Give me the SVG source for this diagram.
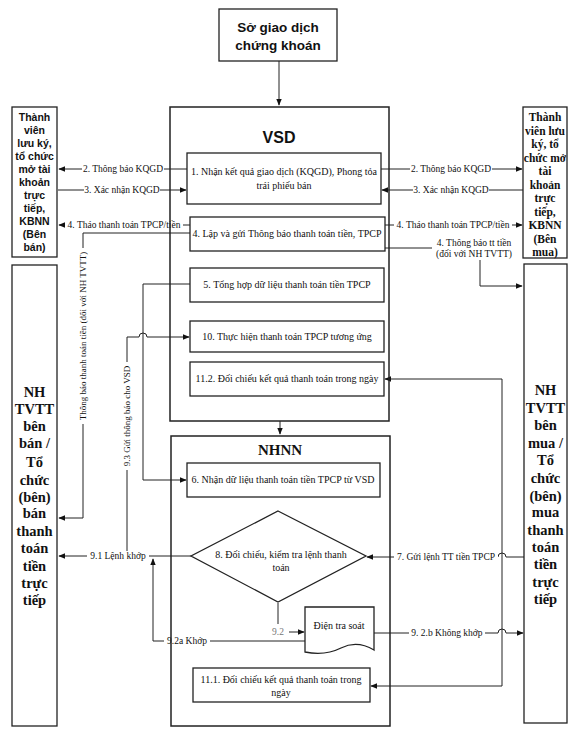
<svg xmlns="http://www.w3.org/2000/svg" width="576" height="739" viewBox="0 0 576 739">
<defs>
<marker id="ah" viewBox="0 0 10 10" refX="9" refY="5" markerWidth="7" markerHeight="7" orient="auto-start-reverse" markerUnits="userSpaceOnUse">
<path d="M0,1 L10,5 L0,9 Z" fill="#111"/>
</marker>
<style>
.box{fill:#fff;stroke:#222;stroke-width:1.3}
.cont{fill:none;stroke:#222;stroke-width:1.5}
.ln{fill:none;stroke:#222;stroke-width:1}
.bg{fill:#fff;stroke:none}
.t{font-family:"Liberation Serif","Times New Roman",serif;font-size:10px;fill:#111;text-anchor:middle}
.lb{font-family:"Liberation Serif","Times New Roman",serif;font-size:9.5px;fill:#111;text-anchor:middle}
.lv{font-family:"Liberation Serif","Times New Roman",serif;font-size:9px;fill:#111;text-anchor:middle}
.sb{font-family:"Liberation Sans",Arial,sans-serif;font-weight:bold;fill:#111;text-anchor:middle}
.rb{font-family:"Liberation Serif","Times New Roman",serif;font-weight:bold;fill:#111;text-anchor:middle}
</style>
</defs>

<g id="connectors">
<path class="ln" d="M279,61 V105" marker-end="url(#ah)"/>
<path class="ln" d="M280,421 V434" marker-end="url(#ah)"/>
<path class="ln" d="M187,169 H59" marker-end="url(#ah)"/>
<path class="ln" d="M58,190 H186" marker-end="url(#ah)"/>
<path class="ln" d="M190,225 H59" marker-end="url(#ah)"/>
<path class="ln" d="M190,233 H83 V518 H59" marker-end="url(#ah)"/>
<path class="ln" d="M381,169 H522" marker-end="url(#ah)"/>
<path class="ln" d="M523,190 H382" marker-end="url(#ah)"/>
<path class="ln" d="M385,225 H522" marker-end="url(#ah)"/>
<path class="ln" d="M385,248 H480 V286 H522" marker-end="url(#ah)"/>
<path class="ln" d="M190,284 H143 V480 H186" marker-end="url(#ah)"/>
<path class="ln" d="M127,556 V337 H139 A4,4 0 0 1 147,337 H189" marker-end="url(#ah)"/>
<path class="ln" d="M191,556 H59" marker-end="url(#ah)"/>
<path class="ln" d="M305,641 H153 V559" marker-end="url(#ah)"/>
<path class="ln" d="M278,603 V624"/>
<path class="ln" d="M289,632 H304" marker-end="url(#ah)"/>
<path class="ln" d="M374,633 H498 A4,4 0 0 1 506,633 H523" marker-end="url(#ah)"/>
<path class="ln" d="M524,557 H506 A4,4 0 0 0 498,557 H367" marker-end="url(#ah)"/>
<path class="ln" d="M385,379 H502 V686 H371" marker-start="url(#ah)" marker-end="url(#ah)"/>

<rect class="bg" x="82" y="164" width="82" height="11"/>
<text class="lb" x="123" y="172">2. Thông báo KQGD</text>
<rect class="bg" x="84" y="185" width="76" height="11"/>
<text class="lb" x="122" y="193">3. Xác nhận KQGD</text>
<rect class="bg" x="65" y="220" width="118" height="11"/>
<text class="lb" x="124" y="228">4. Tháo thanh toán TPCP/tiền</text>
<rect class="bg" x="410" y="164" width="82" height="11"/>
<text class="lb" x="451" y="172">2. Thông báo KQGD</text>
<rect class="bg" x="413" y="185" width="76" height="11"/>
<text class="lb" x="451" y="193">3. Xác nhận KQGD</text>
<rect class="bg" x="394" y="220" width="118" height="11"/>
<text class="lb" x="453" y="228">4. Tháo thanh toán TPCP/tiền</text>
<rect class="bg" x="432" y="238" width="84" height="11"/>
<text class="lb" x="474" y="246">4. Thông báo tt tiền</text>
<rect class="bg" x="434" y="249" width="80" height="11"/>
<text class="lb" x="474" y="257">(đối với NH TVTT)</text>
<g transform="translate(86,336) rotate(-90)">
<rect class="bg" x="-88" y="-8" width="176" height="11"/>
<text class="lv" x="0" y="0">Thông báo thanh toán tiền (đối với NH TVTT)</text>
</g>
<g transform="translate(130,416) rotate(-90)">
<rect class="bg" x="-54" y="-8" width="108" height="11"/>
<text class="lv" x="0" y="0">9.3 Gửi thông báo cho VSD</text>
</g>
<rect class="bg" x="87" y="551" width="62" height="11"/>
<text class="lb" x="118" y="559">9.1 Lệnh khớp</text>
<rect class="bg" x="164" y="636" width="46" height="11"/>
<text class="lb" x="187" y="644">9.2a Khớp</text>
<text class="lb" x="278" y="635" style="fill:#777">9.2</text>
<rect class="bg" x="409" y="628" width="76" height="11"/>
<text class="lb" x="447" y="636">9. 2.b Không khớp</text>
<rect class="bg" x="394" y="552" width="104" height="11"/>
<text class="lb" x="446" y="560">7. Gửi lệnh TT tiền TPCP</text>
</g>

<g id="sgd">
<rect class="box" x="219" y="9" width="118" height="52"/>
<text class="sb" x="278" y="32" font-size="13.5">Sở giao dịch</text>
<text class="sb" x="278" y="50" font-size="13.5">chứng khoán</text>
</g>

<g id="vsd">
<rect class="cont" x="170" y="107" width="219" height="314"/>
<text class="sb" x="279" y="143" font-size="16">VSD</text>
</g>
<g id="n1">
<rect class="box" x="187" y="153" width="194" height="51"/>
<text class="t" x="284" y="175">1. Nhận kết quả giao dịch (KQGD), Phong tỏa</text>
<text class="t" x="284" y="189">trái phiếu bán</text>
</g>
<g id="n4">
<rect class="box" x="190" y="217" width="195" height="34"/>
<text class="t" x="287" y="237">4.  Lập và gửi Thông báo thanh toán tiền, TPCP</text>
</g>
<g id="n5">
<rect class="box" x="190" y="268" width="194" height="34"/>
<text class="t" x="287" y="288">5. Tổng hợp dữ liệu thanh toán tiền TPCP</text>
</g>
<g id="n10">
<rect class="box" x="190" y="321" width="194" height="31"/>
<text class="t" x="287" y="340">10. Thực hiện thanh toán TPCP tương ứng</text>
</g>
<g id="n112">
<rect class="box" x="190" y="362" width="194" height="34"/>
<text class="t" x="287" y="382">11.2. Đối chiếu kết quả thanh toán trong ngày</text>
</g>

<g id="nhnn">
<rect class="cont" x="171" y="436" width="219" height="290"/>
<text class="rb" x="280" y="455" font-size="15">NHNN</text>
</g>
<g id="n6">
<rect class="box" x="187" y="463" width="193" height="34"/>
<text class="t" x="283" y="483">6. Nhận dữ liệu thanh toán tiền TPCP từ VSD</text>
</g>
<g id="n8">
<path class="box" d="M278,511 L366,556 L278,602 L191,556 Z"/>
<text class="t" x="281" y="558">8. Đối chiếu, kiểm tra lệnh thanh</text>
<text class="t" x="281" y="571">toán</text>
</g>
<g id="dts">
<path class="box" d="M305,607 H374 V650 Q357,640 341,648 T305,652 Z"/>
<text class="t" x="339" y="629">Điện tra soát</text>
</g>
<g id="n111">
<rect class="box" x="193" y="668" width="177" height="34"/>
<text class="t" x="281" y="683">11.1. Đối chiếu kết quả thanh toán trong</text>
<text class="t" x="281" y="696">ngày</text>
</g>

<g id="tv-ban">
<rect class="box" x="12" y="107" width="45" height="150"/>
<g class="sb" font-size="10.5">
<text x="34.5" y="121">Thành</text>
<text x="34.5" y="134">viên</text>
<text x="34.5" y="147">lưu ký,</text>
<text x="34.5" y="160">tổ chức</text>
<text x="34.5" y="173">mở tài</text>
<text x="34.5" y="186">khoản</text>
<text x="34.5" y="199">trực</text>
<text x="34.5" y="212">tiếp,</text>
<text x="34.5" y="225">KBNN</text>
<text x="34.5" y="238">(Bên</text>
<text x="34.5" y="251">bán)</text>
</g>
</g>

<g id="tv-mua">
<rect class="box" x="523" y="107" width="44" height="151"/>
<g class="rb" font-size="11.5">
<text x="545" y="121">Thành</text>
<text x="545" y="134.5">viên lưu</text>
<text x="545" y="148">ký, tổ</text>
<text x="545" y="161.5">chức mở</text>
<text x="545" y="175">tài</text>
<text x="545" y="188.5">khoản</text>
<text x="545" y="202">trực</text>
<text x="545" y="215.5">tiếp,</text>
<text x="545" y="229">KBNN</text>
<text x="545" y="242.5">(Bên</text>
<text x="545" y="256">mua)</text>
</g>
</g>

<g id="nh-ban">
<rect class="box" x="12" y="265" width="45" height="461"/>
<g class="rb" font-size="14.5">
<text x="34.5" y="397">NH</text>
<text x="34.5" y="414">TVTT</text>
<text x="34.5" y="431">bên</text>
<text x="34.5" y="448">bán /</text>
<text x="34.5" y="467">Tổ</text>
<text x="34.5" y="485">chức</text>
<text x="34.5" y="502">(bên)</text>
<text x="34.5" y="518">bán</text>
<text x="34.5" y="536">thanh</text>
<text x="34.5" y="553">toán</text>
<text x="34.5" y="571">tiền</text>
<text x="34.5" y="588">trực</text>
<text x="34.5" y="605">tiếp</text>
</g>
</g>

<g id="nh-mua">
<rect class="box" x="524" y="264" width="43" height="459"/>
<g class="rb" font-size="14.5">
<text x="545.5" y="395">NH</text>
<text x="545.5" y="413">TVTT</text>
<text x="545.5" y="430">bên</text>
<text x="545.5" y="448">mua /</text>
<text x="545.5" y="465">Tổ</text>
<text x="545.5" y="483">chức</text>
<text x="545.5" y="501">(bên)</text>
<text x="545.5" y="517">mua</text>
<text x="545.5" y="535">thanh</text>
<text x="545.5" y="552">toán</text>
<text x="545.5" y="569">tiền</text>
<text x="545.5" y="587">trực</text>
<text x="545.5" y="604">tiếp</text>
</g>
</g>
</svg>
